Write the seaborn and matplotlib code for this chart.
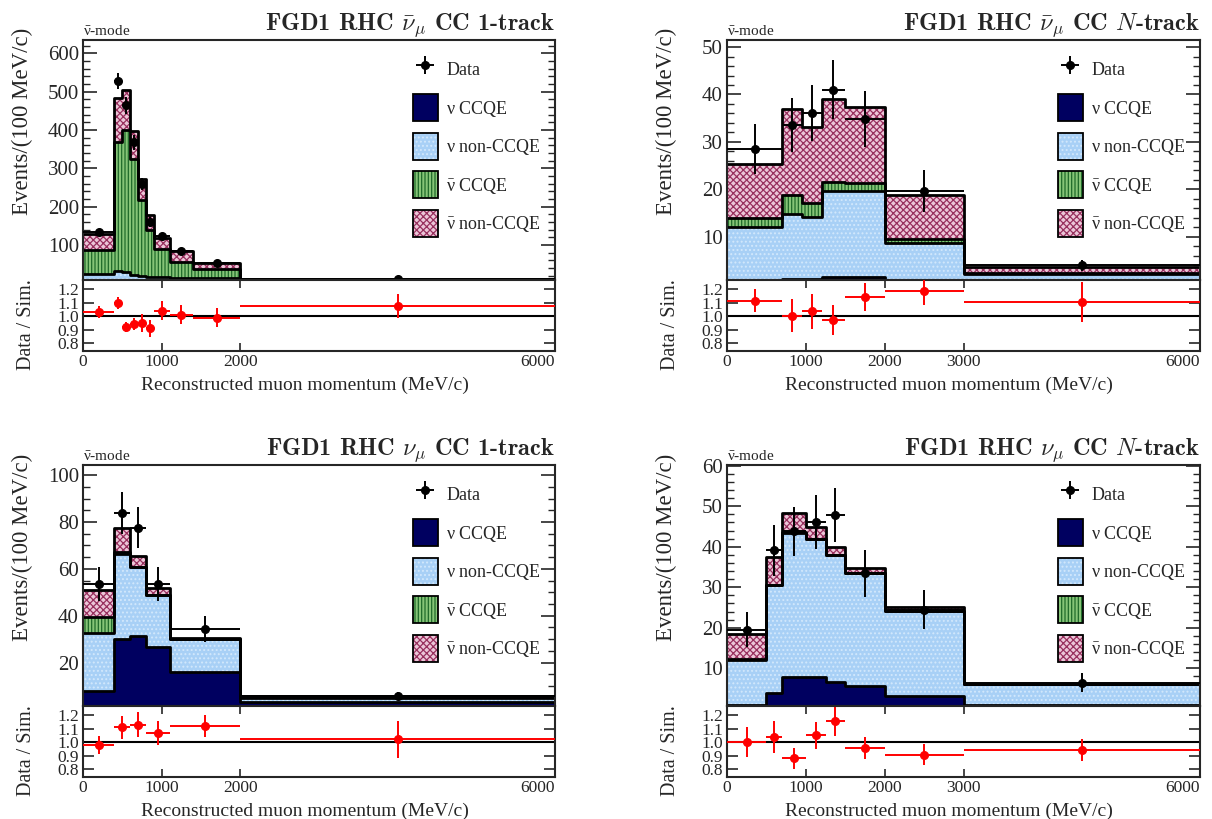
import numpy as np
import pandas as pd
import seaborn as sns
import matplotlib.pyplot as plt
from matplotlib.patches import Patch
from matplotlib.colors import to_rgb
from matplotlib.ticker import MultipleLocator, FormatStrFormatter

sns.set_style("ticks")
plt.rcParams["font.family"] = ["Liberation Serif", "DejaVu Serif"]
# upright greek (like ROOT's symbol font) for nu / nu-bar in labels
plt.rcParams["mathtext.fontset"] = "custom"
plt.rcParams["mathtext.rm"] = "Liberation Serif"
plt.rcParams["mathtext.it"] = "Liberation Serif"
plt.rcParams["mathtext.bf"] = "Liberation Serif:bold"
plt.rcParams["hatch.linewidth"] = 0.9

labels = [r"$\nu$ CCQE", r"$\nu$ non-CCQE", r"$\bar{\nu}$ CCQE", r"$\bar{\nu}$ non-CCQE"]
fill_colors = {labels[0]: "#000060", labels[1]: "#a8d0f6",
               labels[2]: "#86c477", labels[3]: "#ecc6d8"}
hatch_colors = {labels[0]: "#000060", labels[1]: "#d2e8fc",
                labels[2]: "#1f6b2a", labels[3]: "#98305e"}
hatches = {labels[0]: None, labels[1]: "....", labels[2]: "|||||", labels[3]: "xxxxx"}

# ---- anti-nu_mu CC 1-track
edges_a = [0, 400, 500, 600, 700, 800, 900, 1100, 1400, 2000, 6000]
nu_ccqe_a = [4, 5, 5, 4, 3, 3, 3, 2, 2, 0.5]
nu_non_a = [20, 26, 24, 18, 16, 13, 12, 12, 11, 2.5]
nubar_ccqe_a = [63, 338, 370, 303, 197, 122, 75, 42, 24, 4]
nubar_non_a = [42, 115, 106, 72, 55, 41, 27, 27, 17, 4]
data_a = [133, 528, 464, 368, 260, 161, 122, 84, 53, 11.8]
data_err_a = [6, 22, 22, 19, 16, 13, 8, 5, 3, 1.7]
ratio_a = [1.03, 1.10, 0.92, 0.94, 0.95, 0.91, 1.04, 1.01, 0.99, 1.075]
ratio_err_a = [0.045, 0.045, 0.04, 0.045, 0.065, 0.065, 0.07, 0.07, 0.07, 0.09]

# ---- anti-nu_mu CC N-track
edges_b = [0, 700, 950, 1200, 1500, 2000, 3000, 6000]
nu_ccqe_b = [0.1, 1.0, 1.0, 1.4, 1.4, 0.3, 0.2]
nu_non_b = [11.9, 13.8, 13.2, 18.3, 18.3, 8.3, 1.8]
nubar_ccqe_b = [1.9, 4.0, 2.9, 1.9, 1.6, 0.8, 0.4]
nubar_non_b = [11.5, 18.2, 16.0, 17.5, 16.1, 9.3, 1.2]
data_b = [28.5, 33.6, 36.1, 41.0, 34.8, 19.6, 3.9]
data_err_b = [5.2, 5.7, 5.9, 6.2, 5.9, 4.4, 1.2]
ratio_b = [1.115, 1.005, 1.035, 0.97, 1.14, 1.185, 1.105]
ratio_err_b = [0.087, 0.12, 0.13, 0.11, 0.105, 0.10, 0.15]

# ---- nu_mu CC 1-track
edges_c = [0, 400, 600, 800, 1100, 2000, 6000]
nu_ccqe_c = [8.1, 30.1, 31.4, 26.5, 15.9, 3.0]
nu_non_c = [24.4, 36.4, 29.5, 22.3, 14.0, 2.1]
nubar_ccqe_c = [7.1, 0.8, 0.1, 0.2, 0.1, 0.1]
nubar_non_c = [11.4, 10.2, 4.6, 2.7, 0.4, 0.6]
data_c = [53.5, 83.9, 77.6, 53.4, 34.3, 5.9]
data_err_c = [7.1, 8.9, 8.7, 7.2, 5.7, 1.5]
ratio_c = [0.98, 1.11, 1.13, 1.07, 1.12, 1.02]
ratio_err_c = [0.066, 0.087, 0.093, 0.089, 0.084, 0.14]

# ---- nu_mu CC N-track
edges_d = [0, 500, 700, 1000, 1250, 1500, 2000, 3000, 6000]
nu_ccqe_d = [0.8, 3.8, 7.9, 7.9, 6.7, 5.5, 3.1, 0.9]
nu_non_d = [11.3, 26.8, 35.6, 33.9, 31.3, 28.0, 21.1, 5.1]
nubar_ccqe_d = [0.05, 0.05, 0.05, 0.05, 0.05, 0.05, 0.05, 0.02]
nubar_non_d = [6.25, 6.75, 4.85, 3.05, 1.85, 1.15, 0.75, 0.18]
data_d = [19.5, 39.1, 43.8, 46.1, 47.8, 33.5, 24.4, 6.4]
data_err_d = [4.3, 6.2, 6.1, 6.6, 6.7, 5.8, 4.8, 2.4]
ratio_d = [1.00, 1.04, 0.88, 1.05, 1.155, 0.955, 0.905, 0.945]
ratio_err_d = [0.11, 0.12, 0.078, 0.10, 0.11, 0.081, 0.079, 0.082]

titles = [r"FGD1 RHC $\bar{\nu}_{\mu}$ CC 1-track", r"FGD1 RHC $\bar{\nu}_{\mu}$ CC $N$-track",
          r"FGD1 RHC $\nu_{\mu}$ CC 1-track", r"FGD1 RHC $\nu_{\mu}$ CC $N$-track"]
xtick_sets = [[0, 1000, 2000, 6000], [0, 1000, 2000, 3000, 6000],
              [0, 1000, 2000, 6000], [0, 1000, 2000, 3000, 6000]]
ylims = [(8.4, 635), (0.83, 51.5), (1.5, 104.3), (0.66, 60.2)]
ymajor = [100, 10, 20, 10]
yminor = [20, 2, 5, 2]

panels = [
    (edges_a, [nu_ccqe_a, nu_non_a, nubar_ccqe_a, nubar_non_a], data_a, data_err_a, ratio_a, ratio_err_a),
    (edges_b, [nu_ccqe_b, nu_non_b, nubar_ccqe_b, nubar_non_b], data_b, data_err_b, ratio_b, ratio_err_b),
    (edges_c, [nu_ccqe_c, nu_non_c, nubar_ccqe_c, nubar_non_c], data_c, data_err_c, ratio_c, ratio_err_c),
    (edges_d, [nu_ccqe_d, nu_non_d, nubar_ccqe_d, nubar_non_d], data_d, data_err_d, ratio_d, ratio_err_d),
]

W, H = 1212, 819
fig = plt.figure(figsize=(W / 100, H / 100), dpi=100)

# pixel boxes: (left, right, main_top, main_bottom, ratio_bottom)
boxes = [(83, 555, 40, 280, 351), (727, 1200, 40, 280, 351),
         (83, 555, 465, 706, 777), (727, 1200, 465, 706, 777)]

for i, (edges, comps, data, derr, ratio, rerr) in enumerate(panels):
    l, r, t, m, b = boxes[i]
    ax = fig.add_axes([l / W, 1 - m / H, (r - l) / W, (m - t) / H])
    axr = fig.add_axes([l / W, 1 - b / H, (r - l) / W, (b - m) / H])

    e = np.array(edges, dtype=float)
    centers = (e[:-1] + e[1:]) / 2
    half = (e[1:] - e[:-1]) / 2
    nb = len(centers)

    df = pd.DataFrame({"p": np.tile(centers, 4),
                       "w": np.concatenate([np.asarray(c, float) for c in comps]),
                       "comp": np.repeat(labels, nb)})

    # stacked MC, filled + hatched
    n_before = len(ax.collections)
    sns.histplot(data=df, x="p", weights="w", hue="comp", hue_order=labels[::-1],
                 bins=list(edges), multiple="stack", element="step", fill=True,
                 palette=fill_colors, alpha=1, linewidth=0, legend=False, ax=ax)
    for coll in ax.collections[n_before:]:
        fc = tuple(coll.get_facecolor()[0][:3])
        for lab in labels:
            if np.allclose(fc, to_rgb(fill_colors[lab]), atol=0.01):
                if hatches[lab]:
                    coll.set_hatch(hatches[lab])
                coll.set_edgecolor(hatch_colors[lab])
                coll.set_linewidth(0)
    # black outlines of each stacked layer
    sns.histplot(data=df, x="p", weights="w", hue="comp", hue_order=labels[::-1],
                 bins=list(edges), multiple="stack", element="step", fill=False,
                 palette={lab: "black" for lab in labels}, linewidth=2.0,
                 legend=False, ax=ax)

    dat = ax.errorbar(centers, data, yerr=derr, xerr=half, fmt="o", color="black",
                      ms=5.5, lw=1.4, capsize=0, zorder=5)

    ax.set_xlim(0, 6000)
    ax.set_ylim(*ylims[i])
    ax.set_xlabel("")
    ax.set_ylabel("Events/(100 MeV/c)", fontsize=16.5)
    ax.yaxis.set_label_coords(-0.105, 0.66)
    ax.set_xticks(xtick_sets[i])
    ax.set_xticklabels([])
    ax.yaxis.set_major_locator(MultipleLocator(ymajor[i]))
    ax.yaxis.set_minor_locator(MultipleLocator(yminor[i]))
    ax.tick_params(axis="y", which="both", direction="in", left=True, right=True, labelsize=15)
    ax.tick_params(axis="y", which="major", length=10, width=1.2, pad=3)
    ax.tick_params(axis="y", which="minor", length=5, width=1.0)
    ax.tick_params(axis="x", direction="in", bottom=True, top=False, length=6, width=1.2)
    ax.set_title(titles[i], loc="right", fontsize=17.5, fontfamily="cmb10",
                 math_fontfamily="cm", pad=7)
    ax.text(0.0, 1.008, r"$\bar{\nu}$-mode", transform=ax.transAxes, fontsize=11,
            ha="left", va="bottom")
    for s in ax.spines.values():
        s.set_linewidth(1.5)

    handles = [dat]
    for lab in labels:
        handles.append((Patch(facecolor=fill_colors[lab], hatch=hatches[lab],
                              edgecolor=hatch_colors[lab], lw=0),
                        Patch(facecolor="none", edgecolor="black", lw=1.3)))
    ax.legend(handles, ["Data"] + labels, loc="upper right", bbox_to_anchor=(0.985, 0.965),
              frameon=False, fontsize=13, handlelength=1.4, handleheight=1.95,
              labelspacing=0.62, handletextpad=0.45, borderaxespad=0)

    # ratio panel
    axr.axhline(1.0, color="black", lw=1.5, zorder=2)
    axr.errorbar(centers, ratio, yerr=rerr, xerr=half, fmt="o", color="red",
                 ms=5.5, lw=1.4, capsize=0, zorder=4)
    axr.set_xlim(0, 6000)
    axr.set_ylim(0.74, 1.27)
    axr.set_yticks([0.8, 0.9, 1.0, 1.1, 1.2])
    axr.yaxis.set_major_formatter(FormatStrFormatter("%.1f"))
    axr.set_xticks(xtick_sets[i])
    axr.set_xticklabels([str(v) for v in xtick_sets[i]])
    axr.get_xticklabels()[-1].set_horizontalalignment("right")
    axr.tick_params(axis="both", which="major", direction="in", top=True, bottom=True,
                    left=True, right=True, labelsize=12.5, width=1.2)
    axr.tick_params(axis="y", length=8, pad=3)
    axr.tick_params(axis="x", length=6, pad=2)
    axr.set_ylabel("Data / Sim.", fontsize=14.5)
    axr.yaxis.set_label_coords(-0.10, 0.37)
    axr.set_xlabel("Reconstructed muon momentum (MeV/c)", fontsize=14)
    axr.xaxis.set_label_coords(0.47, -0.36)
    for s in axr.spines.values():
        s.set_linewidth(1.5)

fig.savefig("out.png", dpi=100)
